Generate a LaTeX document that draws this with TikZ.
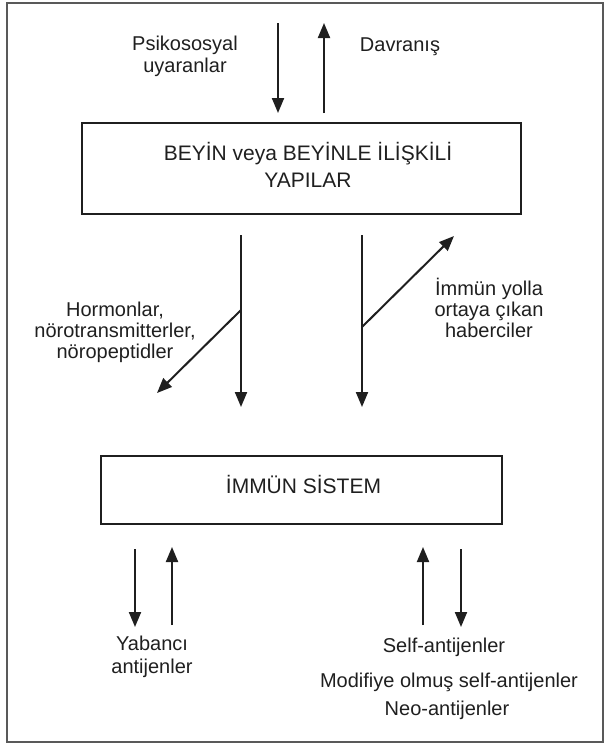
\documentclass[tikz,border=0pt]{standalone}
\usepackage{fontspec}
\setmainfont{Liberation Sans}
\usetikzlibrary{arrows.meta}
\begin{document}
\begin{tikzpicture}[x=1pt,y=-1pt,
  box/.style={draw=black!88, line width=2.6pt, inner sep=0pt},
  lbl/.style={font=\fontsize{20}{21}\selectfont, text=black!88, align=center, inner sep=0pt},
  boxtxt/.style={font=\fontsize{21}{25}\selectfont, text=black!88, inner sep=0pt, anchor=base},
  arr/.style={line width=2pt, draw=black!88, -{Triangle[length=15pt,width=12pt]}}]
\useasboundingbox (0,0) rectangle (606,744);
\draw[line width=1.6pt, draw=black!65] (7,3) rectangle (603,742);

% boxes
\node[box, minimum width=439pt, minimum height=91pt] (brain) at (301.5,168.5) {};
\node[boxtxt] (braintxtA) at (308,160) {BEYİN veya BEYİNLE İLİŞKİLİ};
\node[boxtxt] (braintxtB) at (308,187) {YAPILAR};
\node[box, minimum width=401pt, minimum height=68pt] (imm) at (301.5,490) {};
\node[boxtxt] (immtxt) at (303.5,493) {İMMÜN SİSTEM};

% top labels
\node[lbl, font=\fontsize{20}{22}\selectfont] (psi) at (185,56.5) {Psikososyal\\uyaranlar};
\node[lbl, anchor=base] (dav) at (400,51) {Davranış};

% middle labels
\node[lbl] (horm) at (115,332) {Hormonlar,\\nörotransmitterler,\\nöropeptidler};
\node[lbl] (immy) at (489,308) {İmmün yolla\\ortaya çıkan\\haberciler};

% bottom labels
\node[lbl, font=\fontsize{20}{23}\selectfont] (yab) at (152,657) {Yabancı\\antijenler};
\node[lbl, anchor=base] (self) at (444,652) {Self-antijenler};
\node[lbl, anchor=base] (modi) at (449,687) {Modifiye olmuş self-antijenler};
\node[lbl, anchor=base] (neo) at (447,715) {Neo-antijenler};

% coordinates
\coordinate (t1a) at (278,23);  \coordinate (t1b) at (278,113);
\coordinate (t2a) at (324,113); \coordinate (t2b) at (324,23);
\coordinate (l1a) at (241,235); \coordinate (l1b) at (241,407);
\coordinate (l1m) at (241,310); \coordinate (l1d) at (157,393);
\coordinate (r1a) at (362,235); \coordinate (r1b) at (362,407);
\coordinate (r1m) at (362,327); \coordinate (r1d) at (454,236);
\coordinate (b1a) at (135,549); \coordinate (b1b) at (135,627);
\coordinate (b2a) at (172,625); \coordinate (b2b) at (172,547);
\coordinate (b3a) at (423,625); \coordinate (b3b) at (423,547);
\coordinate (b4a) at (461,549); \coordinate (b4b) at (461,627);

% arrows
\draw[arr] (t1a) -- (t1b);
\draw[arr] (t2a) -- (t2b);
\draw[arr] (l1a) -- (l1b);
\draw[arr] (l1m) -- (l1d);
\draw[arr] (r1a) -- (r1b);
\draw[arr] (r1m) -- (r1d);
\draw[arr] (b1a) -- (b1b);
\draw[arr] (b2a) -- (b2b);
\draw[arr] (b3a) -- (b3b);
\draw[arr] (b4a) -- (b4b);
\end{tikzpicture}
\end{document}
